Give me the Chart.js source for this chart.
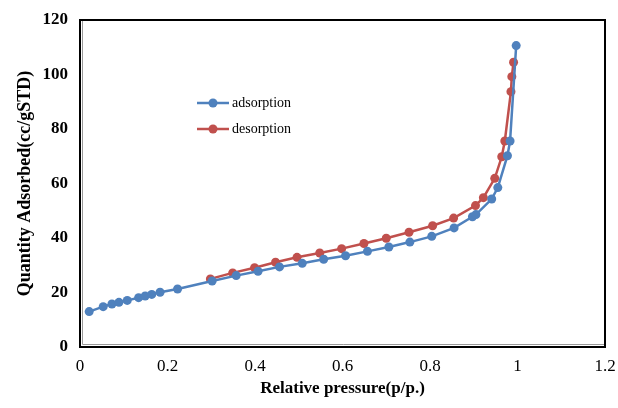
<!DOCTYPE html>
<html>
<head>
<meta charset="utf-8">
<script src="https://cdn.jsdelivr.net/npm/chart.js@4.4.0/dist/chart.umd.min.js"></script>
<style>
  html, body { margin: 0; padding: 0; background: #fff; }
  #wrap { width: 618px; height: 408px; }
</style>
</head>
<body>
<div id="wrap"><canvas id="isoChart" width="618" height="408"></canvas></div>
<script>
// Isotherm data
const adsorptionP = [0.021, 0.053, 0.073, 0.089, 0.108, 0.134, 0.149, 0.164, 0.183, 0.223,
    0.302, 0.357, 0.407, 0.456, 0.508, 0.557, 0.607, 0.657, 0.706, 0.754, 0.804, 0.855,
    0.897, 0.905, 0.941, 0.955, 0.977, 0.983, 0.997];
const adsorptionV = [13.0, 14.8, 15.8, 16.4, 17.1, 18.1, 18.7, 19.3, 20.1, 21.3,
    24.2, 26.2, 27.8, 29.4, 30.7, 32.2, 33.5, 35.1, 36.7, 38.5, 40.6, 43.7,
    47.8, 48.6, 54.3, 58.5, 70.2, 75.6, 110.6];

const desorptionP = [0.991, 0.987, 0.985, 0.971, 0.964, 0.948, 0.922, 0.904, 0.854, 0.806,
    0.752, 0.700, 0.649, 0.598, 0.548, 0.496, 0.447, 0.399, 0.349, 0.298];
const desorptionV = [104.5, 99.2, 93.7, 75.6, 69.8, 61.9, 54.8, 51.9, 47.3, 44.5,
    42.1, 39.9, 38.0, 36.1, 34.5, 32.9, 31.1, 29.1, 27.2, 25.0];

const xTitle = 'Relative pressure(p/p.)';
const yTitle = 'Quantity Adsorbed(cc/gSTD)';

const blue = '#4F81BD';
const red = '#C0504D';
const serif = '"Liberation Serif", "Times New Roman", serif';

function toPoints(xs, ys) {
    return xs.map((x, i) => ({ x: x, y: ys[i] }));
}

// frame around the plot area, like the Excel original
const framePlugin = {
    id: 'frame',
    afterDatasetsDraw(chart) {
        const a = chart.chartArea;
        const ctx = chart.ctx;
        ctx.save();
        ctx.strokeStyle = '#000';
        ctx.lineWidth = 2;
        ctx.strokeRect(a.left, a.top, a.right - a.left, a.bottom - a.top);
        ctx.strokeStyle = '#9a9a9a';
        ctx.lineWidth = 1;
        ctx.beginPath();
        ctx.moveTo(a.left + 2.5, a.top + 1);
        ctx.lineTo(a.left + 2.5, a.bottom - 2.5);
        ctx.lineTo(a.right - 1, a.bottom - 2.5);
        ctx.stroke();
        ctx.restore();
    }
};

// legend sitting inside the plot
const insideLegend = {
    id: 'insideLegend',
    afterDraw(chart) {
        const ctx = chart.ctx;
        ctx.save();
        chart.data.datasets.forEach((ds, i) => {
            const y = 103 + i * 26;
            ctx.strokeStyle = ds.borderColor;
            ctx.lineWidth = 2.5;
            ctx.beginPath();
            ctx.moveTo(197, y);
            ctx.lineTo(229, y);
            ctx.stroke();
            ctx.fillStyle = ds.backgroundColor;
            ctx.beginPath();
            ctx.arc(213, y, 4.5, 0, Math.PI * 2);
            ctx.fill();
            ctx.fillStyle = '#000';
            ctx.font = '14px ' + serif;
            ctx.textBaseline = 'middle';
            ctx.textAlign = 'left';
            ctx.fillText(ds.label, 232, y);
        });
        ctx.restore();
    }
};

const ctx = document.getElementById('isoChart').getContext('2d');
new Chart(ctx, {
    type: 'line',
    data: {
        datasets: [{
            label: 'adsorption',
            data: toPoints(adsorptionP, adsorptionV),
            borderColor: blue,
            backgroundColor: blue,
            borderWidth: 2.5,
            pointRadius: 4.5,
            pointHoverRadius: 4.5,
            pointBorderWidth: 0,
            tension: 0
        }, {
            label: 'desorption',
            data: toPoints(desorptionP, desorptionV),
            borderColor: red,
            backgroundColor: red,
            borderWidth: 2.5,
            pointRadius: 4.5,
            pointHoverRadius: 4.5,
            pointBorderWidth: 0,
            tension: 0
        }]
    },
    options: {
        responsive: false,
        animation: false,
        layout: { padding: { left: 0, right: 13, top: 20, bottom: 0 } },
        plugins: {
            legend: { display: false },
            tooltip: { enabled: false }
        },
        scales: {
            x: {
                type: 'linear',
                min: 0,
                max: 1.2,
                ticks: {
                    stepSize: 0.2,
                    color: '#000',
                    padding: 9,
                    maxRotation: 0,
                    font: { family: serif, size: 17 },
                    callback: v => String(Math.round(v * 10) / 10)
                },
                grid: { display: false, drawTicks: false },
                border: { display: false },
                title: {
                    display: true,
                    text: xTitle,
                    color: '#000',
                    padding: { top: 2, bottom: 9 },
                    font: { family: serif, size: 17, weight: 'bold' }
                },
                afterFit(scale) {
                    scale.height = 61;
                    scale.paddingLeft = 0;
                    scale.paddingRight = 0;
                }
            },
            y: {
                min: 0,
                max: 120,
                ticks: {
                    stepSize: 20,
                    color: '#000',
                    padding: 12,
                    font: { family: serif, size: 17, weight: 'bold' }
                },
                grid: { display: false, drawTicks: false },
                border: { display: false },
                title: {
                    display: true,
                    text: yTitle,
                    color: '#000',
                    padding: { top: 15, bottom: 4 },
                    font: { family: serif, size: 18, weight: 'bold' }
                },
                afterFit(scale) {
                    scale.width = 80;
                    scale.paddingTop = 0;
                    scale.paddingBottom = 0;
                }
            }
        }
    },
    plugins: [framePlugin, insideLegend]
});
</script>
</body>
</html>
